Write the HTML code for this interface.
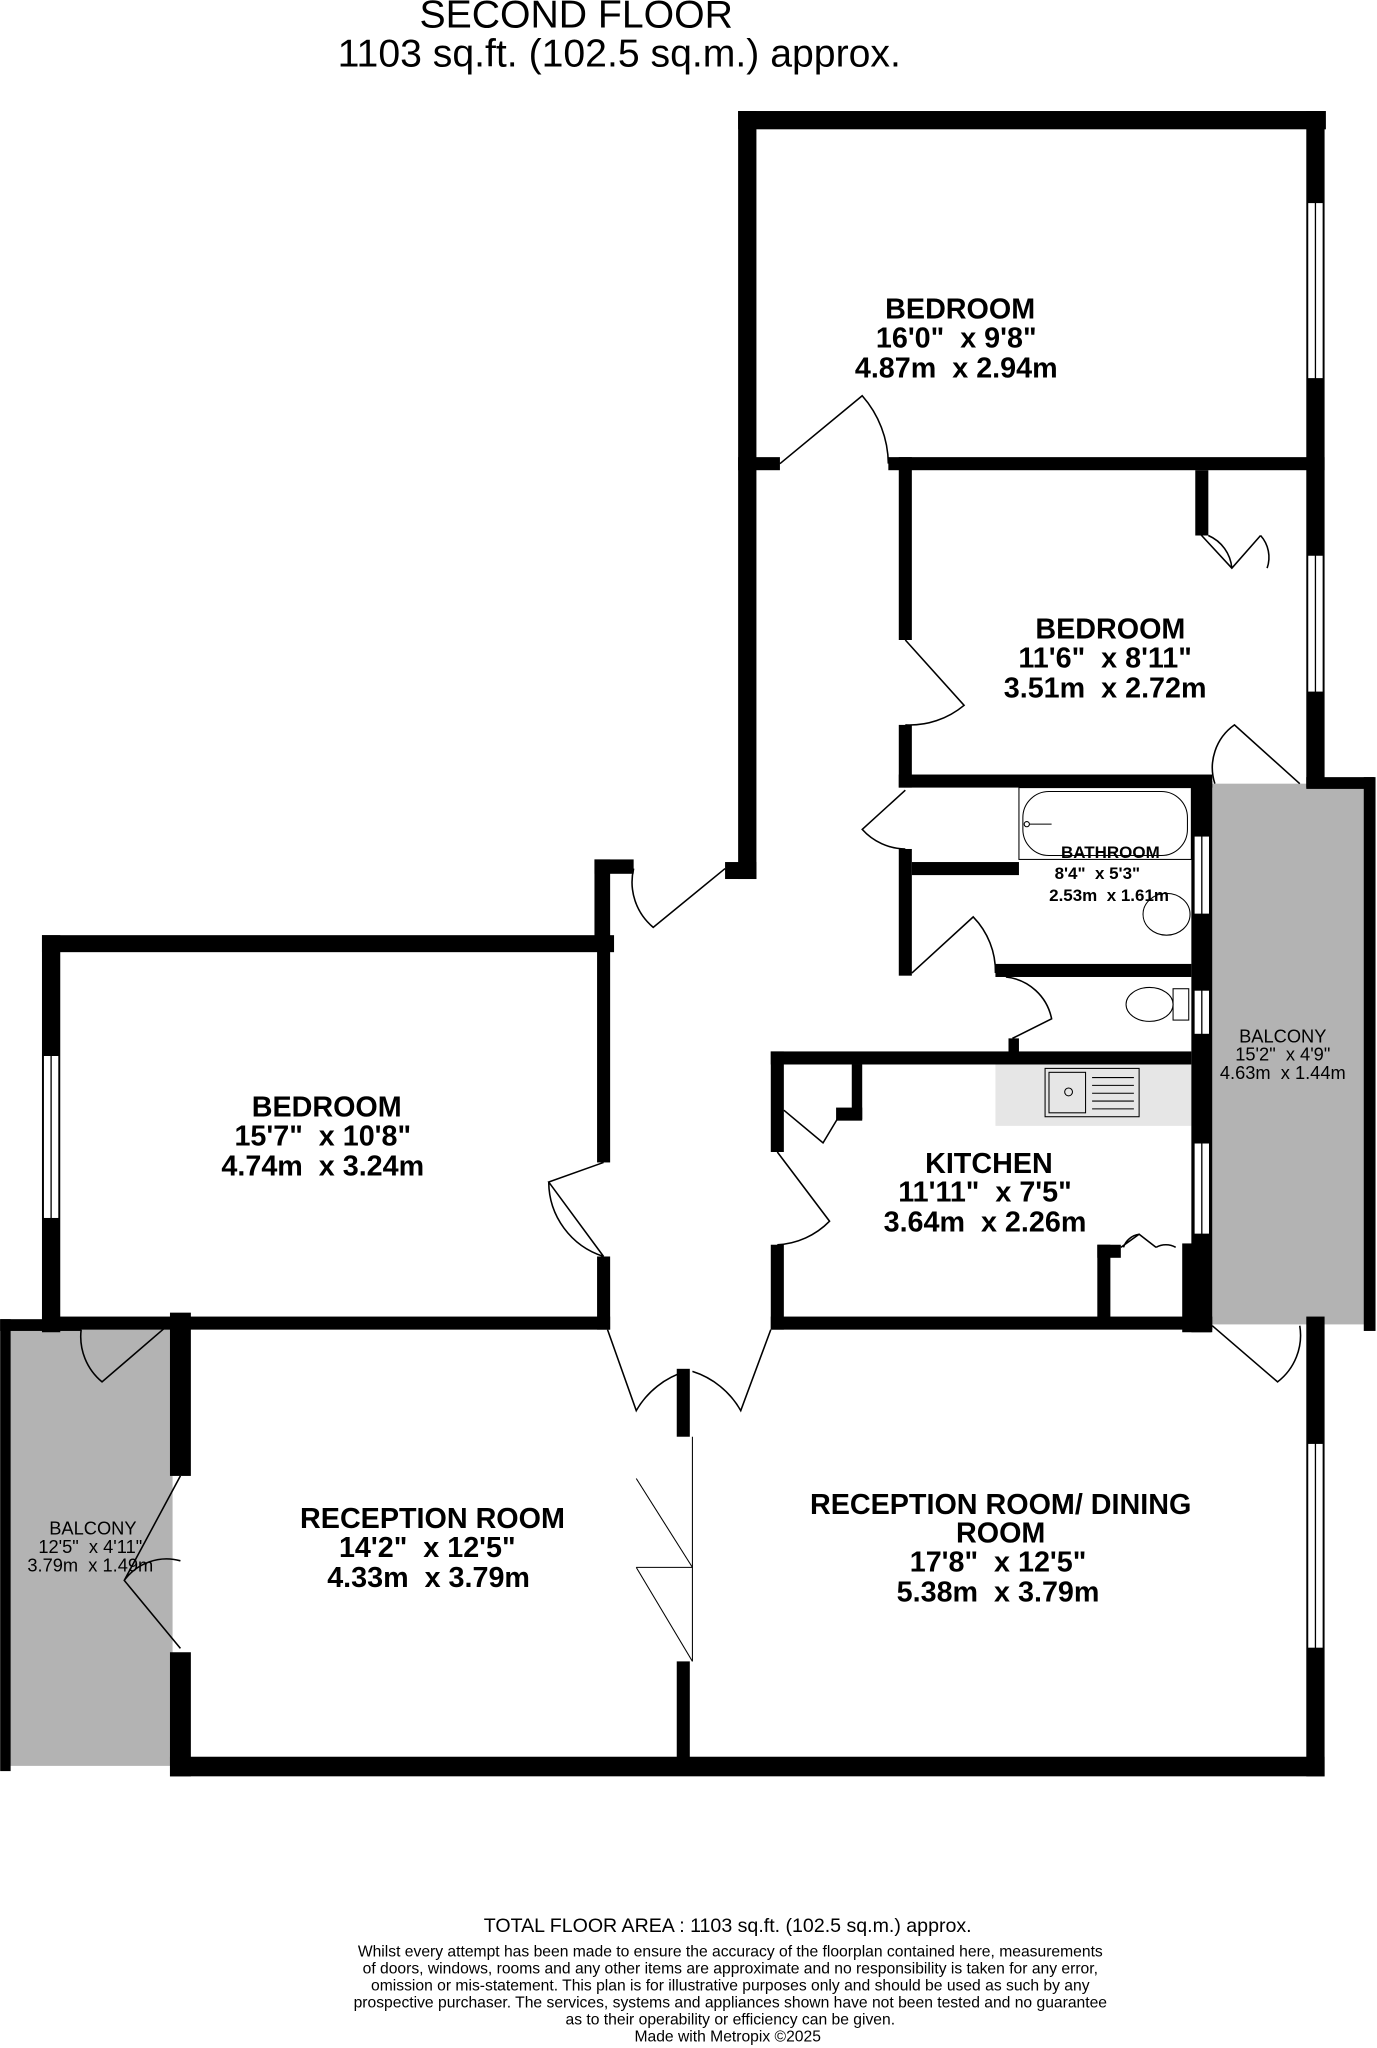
<!DOCTYPE html>
<html><head><meta charset="utf-8"><style>
html,body{margin:0;padding:0;background:#fff;}
svg{display:block;}
text{font-family:"Liberation Sans",sans-serif;fill:#000;white-space:pre;}
</style></head><body>
<svg width="1377" height="2048" viewBox="0 0 1054 1568" xmlns="http://www.w3.org/2000/svg" xml:space="preserve">
<text x="441" y="21" font-size="30" text-anchor="middle">SECOND FLOOR</text>
<text x="474" y="51" font-size="30" text-anchor="middle">1103 sq.ft. (102.5 sq.m.) approx.</text>

<rect x="928" y="600" width="118" height="414" fill="#b3b3b3"/>
<rect x="6" y="1016" width="126" height="336" fill="#b3b3b3"/>
<rect x="762" y="815" width="150" height="47" fill="#e6e6e6"/>

<g fill="#000">
<rect x="565" y="85" width="450" height="14"/>
<rect x="565" y="85" width="14" height="588"/>
<rect x="555" y="660" width="24" height="13"/>
<rect x="565" y="350" width="32" height="10"/>
<rect x="680" y="350" width="334" height="10"/>
<rect x="1000" y="85" width="14" height="518"/>
<rect x="688" y="350" width="10" height="140"/>
<rect x="688" y="555" width="10" height="48"/>
<rect x="688" y="593" width="240" height="10"/>
<rect x="915" y="360" width="10" height="50"/>
<rect x="1000" y="595" width="52" height="9"/>
<rect x="1044" y="595" width="9" height="424"/>
<rect x="912" y="598" width="16" height="422"/>
<rect x="688" y="650" width="10" height="97"/>
<rect x="698" y="660" width="82" height="10"/>
<rect x="762" y="738" width="150" height="10"/>
<rect x="772" y="795" width="8" height="12"/>
<rect x="590" y="805" width="322" height="10"/>
<rect x="590" y="805" width="10" height="77"/>
<rect x="590" y="953" width="10" height="65"/>
<rect x="590" y="1008" width="338" height="10"/>
<rect x="652" y="815" width="8" height="42"/>
<rect x="640" y="848" width="20" height="10"/>
<rect x="840" y="953" width="10" height="62"/>
<rect x="840" y="953" width="18" height="10"/>
<rect x="905" y="952" width="22" height="68"/>
<rect x="32" y="716" width="438" height="13"/>
<rect x="32" y="716" width="14" height="304"/>
<rect x="455" y="658" width="30" height="11"/>
<rect x="455" y="658" width="12" height="70"/>
<rect x="457" y="716" width="10" height="174"/>
<rect x="457" y="962" width="10" height="56"/>
<rect x="32" y="1008" width="435" height="10"/>
<rect x="0" y="1010" width="8" height="346"/>
<rect x="0" y="1010" width="62" height="9"/>
<rect x="130" y="1005" width="16" height="125"/>
<rect x="130" y="1265" width="16" height="95"/>
<rect x="130" y="1345" width="884" height="15"/>
<rect x="518" y="1048" width="10" height="52"/>
<rect x="518" y="1272" width="10" height="75"/>
<rect x="1000" y="1008" width="14" height="352"/>
</g>

<g fill="#fff" stroke="#000" stroke-width="1">
<rect x="1001" y="155" width="12" height="135"/>
<rect x="1001" y="425" width="12" height="105"/>
<rect x="33" y="808" width="12" height="125"/>
<rect x="1001" y="1105" width="12" height="157"/>
<rect x="914" y="640" width="12" height="60"/>
<rect x="914" y="758" width="12" height="34"/>
<rect x="914" y="875" width="12" height="70"/>
</g>
<g stroke="#000" stroke-width="1">
<line x1="1007" y1="155" x2="1007" y2="290"/><line x1="1007" y1="425" x2="1007" y2="530"/>
<line x1="39" y1="808" x2="39" y2="933"/><line x1="1007" y1="1105" x2="1007" y2="1262"/>
<line x1="920" y1="640" x2="920" y2="700"/><line x1="920" y1="758" x2="920" y2="792"/>
<line x1="920" y1="875" x2="920" y2="945"/>
</g>

<g fill="none" stroke="#000" stroke-width="1.2">
<path d="M597 355 L660 303 A80 80 0 0 1 680 355"/>
<path d="M693 490 L738 540 A65 65 0 0 1 693 555"/>
<path d="M918 408 L943 435 L965 410 M943 435 A30 30 0 0 0 925 410 M965 410 A25 25 0 0 1 970 435"/>
<path d="M930 600 A40 40 0 0 1 945 555 L995 600"/>
<path d="M693 605 L660 635 A45 45 0 0 0 693 650"/>
<path d="M698 745 L745 702 A60 60 0 0 1 762 745"/>
<path d="M775 795 L805 780 A40 40 0 0 0 770 748"/>
<path d="M485 665 A45 45 0 0 0 500 710 L555 665"/>
<path d="M595 882 L635 935 A60 60 0 0 1 595 953"/>
<path d="M600 850 L630 875 L642 855"/>
<path d="M858 955 L872 945 L885 955 M872 945 A15 15 0 0 0 860 955 M885 955 A15 15 0 0 1 900 955"/>
<path d="M462 890 L420 905 L462 962 M420 905 A60 60 0 0 0 462 962"/>
<path d="M465 1018 L487 1080 A65 65 0 0 1 525 1050 M590 1018 L567 1080 A65 65 0 0 0 530 1050"/>
<path d="M62 1018 A45 45 0 0 0 78 1058 L128 1015"/>
<path d="M138 1130 L95 1210 L138 1262 M95 1210 A40 40 0 0 1 138 1195"/>
<path d="M928 1015 L978 1058 A45 45 0 0 0 995 1015"/>
</g>
<g stroke="#000" stroke-width="0.8" fill="none">
<line x1="487" y1="1132" x2="530" y2="1200"/><line x1="487" y1="1200" x2="530" y2="1272"/>
<line x1="530" y1="1200" x2="487" y2="1200"/>
<line x1="530" y1="1100" x2="530" y2="1272"/>
<rect x="780" y="603" width="132" height="55"/>
<rect x="783" y="606" width="126" height="49" rx="20"/>
<circle cx="786" cy="631" r="2"/><line x1="788" y1="631" x2="805" y2="631"/>
<ellipse cx="893" cy="700" rx="18" ry="16"/>
<ellipse cx="880" cy="769" rx="18" ry="13"/>
<rect x="898" y="757" width="12" height="24"/>
<rect x="800" y="818" width="72" height="37"/>
<rect x="803" y="821" width="28" height="31"/>
<circle cx="818" cy="836" r="3"/>
<line x1="836" y1="825" x2="868" y2="825"/><line x1="836" y1="831" x2="868" y2="831"/>
<line x1="836" y1="837" x2="868" y2="837"/><line x1="836" y1="843" x2="868" y2="843"/>
<line x1="836" y1="849" x2="868" y2="849"/>
</g>

<g font-weight="bold" text-anchor="middle">
<text x="735" y="244" font-size="22">BEDROOM</text>
<text x="732" y="266" font-size="22">16'0"  x 9'8"</text>
<text x="732" y="289" font-size="22">4.87m  x 2.94m</text>
<text x="850" y="489" font-size="22">BEDROOM</text>
<text x="846" y="511" font-size="22">11'6"  x 8'11"</text>
<text x="846" y="534" font-size="22">3.51m  x 2.72m</text>
<text x="850" y="657" font-size="13">BATHROOM</text>
<text x="840" y="673" font-size="13">8'4"  x 5'3"</text>
<text x="849" y="690" font-size="13">2.53m  x 1.61m</text>
<text x="250" y="855" font-size="22">BEDROOM</text>
<text x="247" y="877" font-size="22">15'7"  x 10'8"</text>
<text x="247" y="900" font-size="22">4.74m  x 3.24m</text>
<text x="757" y="898" font-size="22">KITCHEN</text>
<text x="754" y="920" font-size="22">11'11"  x 7'5"</text>
<text x="754" y="943" font-size="22">3.64m  x 2.26m</text>
<text x="982" y="798" font-size="14" font-weight="normal">BALCONY</text>
<text x="982" y="812" font-size="14" font-weight="normal">15'2"  x 4'9"</text>
<text x="982" y="826" font-size="14" font-weight="normal">4.63m  x 1.44m</text>
<text x="331" y="1170" font-size="22">RECEPTION ROOM</text>
<text x="327" y="1192" font-size="22">14'2"  x 12'5"</text>
<text x="328" y="1215" font-size="22">4.33m  x 3.79m</text>
<text x="766" y="1159" font-size="22">RECEPTION ROOM/ DINING</text>
<text x="766" y="1181" font-size="22">ROOM</text>
<text x="764" y="1203" font-size="22">17'8"  x 12'5"</text>
<text x="764" y="1226" font-size="22">5.38m  x 3.79m</text>
<text x="71" y="1175" font-size="14" font-weight="normal">BALCONY</text>
<text x="69" y="1189" font-size="14" font-weight="normal">12'5"  x 4'11"</text>
<text x="69" y="1203" font-size="14" font-weight="normal">3.79m  x 1.49m</text>
</g>

<g text-anchor="middle">
<text x="557" y="1479" font-size="15">TOTAL FLOOR AREA : 1103 sq.ft. (102.5 sq.m.) approx.</text>
<text x="559" y="1498" font-size="12">Whilst every attempt has been made to ensure the accuracy of the floorplan contained here, measurements</text>
<text x="559" y="1511" font-size="12">of doors, windows, rooms and any other items are approximate and no responsibility is taken for any error,</text>
<text x="559" y="1524" font-size="12">omission or mis-statement. This plan is for illustrative purposes only and should be used as such by any</text>
<text x="559" y="1537" font-size="12">prospective purchaser. The services, systems and appliances shown have not been tested and no guarantee</text>
<text x="559" y="1550" font-size="12">as to their operability or efficiency can be given.</text>
<text x="557" y="1563" font-size="12">Made with Metropix ©2025</text>
</g>
</svg>
</body></html>
